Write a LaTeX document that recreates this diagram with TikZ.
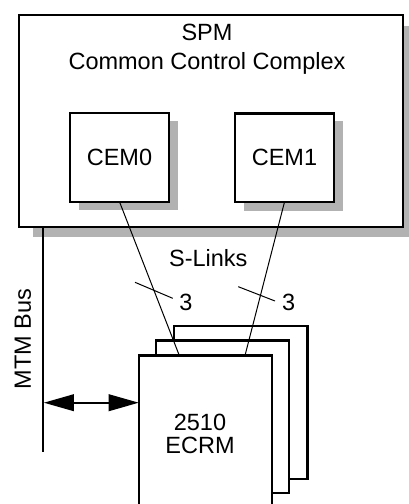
\documentclass[tikz,border=0pt]{standalone}
\usepackage{fontspec}
\setmainfont{Liberation Sans}
\usetikzlibrary{arrows.meta,calc}
\begin{document}
\begin{tikzpicture}[x=1pt,y=-1pt,
  boxstyle/.style={draw=black, line width=2.3pt, fill=white, inner sep=0pt, outer sep=0pt},
  shadowfill/.style={fill=black!30, draw=none},
  labeltext/.style={font=\fontsize{23.5}{28.5}\selectfont, inner sep=0pt, outer sep=0pt},
  link/.style={draw=black, line width=1pt},
  busline/.style={draw=black, line width=2.3pt},
  busarrow/.style={draw=black, line width=1.6pt, {Triangle[length=30pt,width=16.7pt]}-{Triangle[length=30pt,width=16.7pt]}}
]
\useasboundingbox (0,0) rectangle (409,504);
\clip (0,0) rectangle (409,504);

% outer SPM box with shadow
\fill[shadowfill] (33.3,26) rectangle (420,237.3);
\node[boxstyle, minimum width=383.9pt, minimum height=211.7pt] (spm) at (210.75,120.85) {};
\node[labeltext, align=center] (spmtitle) at (207,49) {SPM\\Common Control Complex};

% CEM boxes with shadows
\fill[shadowfill] (79,120.7) rectangle (177.7,210);
\fill[shadowfill] (244.3,121.3) rectangle (342.7,210.7);
\node[boxstyle, labeltext, minimum width=99.6pt, minimum height=88.5pt] (cem0) at (119.5,157.5) {CEM0};
\node[boxstyle, labeltext, minimum width=99.6pt, minimum height=88.5pt] (cem1) at (284.5,157.75) {CEM1};

% MTM bus
\coordinate (bustop) at (42.7,226.7);
\coordinate (busbot) at (42.7,451.7);
\draw[busline] (bustop) -- (busbot);
\node[labeltext, rotate=90] (mtm) at (22.8,339.2) {MTM Bus};

% ECRM stack
\node[boxstyle, minimum width=133.2pt, minimum height=153.1pt] (ecrm3) at (240.9,402.75) {};
\node[boxstyle, minimum width=132.8pt, minimum height=152.8pt] (ecrm2) at (222.4,416.9) {};

% S-links
\draw[link] (cem0.south) -- (179.3,355.5) coordinate (l0end);
\draw[link] (cem1.south) -- (245,355.5) coordinate (l1end);

\node[boxstyle, minimum width=133.3pt, minimum height=153pt] (ecrm) at (205.35,432) {};
\node[labeltext, align=center, font=\fontsize{23.5}{23.5}\selectfont] (ecrmtext) at (200,433.75) {2510\\ECRM};

\node[labeltext] (slinks) at (208.3,258.3) {S-Links};

% width marks
\coordinate (s0a) at (135,282.3);
\coordinate (s0b) at (172.7,298.3);
\coordinate (s1a) at (238.3,286.7);
\coordinate (s1b) at (275,301);
\draw[link] (s0a) -- (s0b);
\draw[link] (s1a) -- (s1b);
\node[labeltext] (n0) at (185.8,302.3) {3};
\node[labeltext] (n1) at (288.7,302.3) {3};

% bus arrow
\coordinate (busport) at (43.9,402.7);
\draw[busarrow] (busport) -- (busport -| ecrm.west);
\end{tikzpicture}
\end{document}
